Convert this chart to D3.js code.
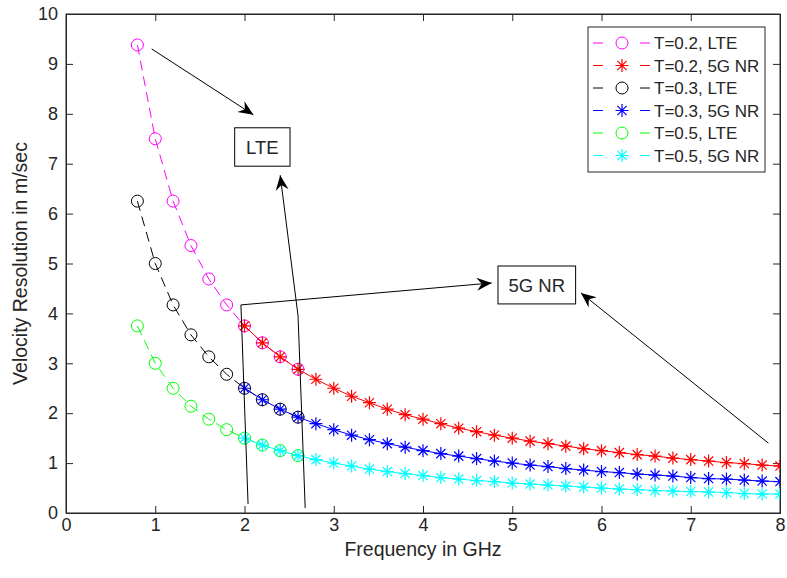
<!DOCTYPE html>
<html>
<head>
<meta charset="utf-8">
<script src="https://cdn.jsdelivr.net/npm/d3@7"></script>
<style>
  body { margin: 0; background: #fff; }
  text { font-family: "Liberation Sans", Arial, Helvetica, sans-serif; fill: #262626; }
</style>
</head>
<body>
<div id="chart"></div>
<script>
// frequencies (GHz)
const lteFreq = [0.8, 1.0, 1.2, 1.4, 1.6, 1.8, 2.0, 2.2, 2.4, 2.6];
const nrFreq = [2.0, 2.2, 2.4, 2.6, 2.8, 3.0, 3.2, 3.4, 3.6, 3.8, 4.0, 4.2, 4.4, 4.6, 4.8, 5.0,
  5.2, 5.4, 5.6, 5.8, 6.0, 6.2, 6.4, 6.6, 6.8, 7.0, 7.2, 7.4, 7.6, 7.8, 8.0];

// velocity resolution (m/sec)
const lteT02 = [9.38, 7.5, 6.25, 5.36, 4.69, 4.17, 3.75, 3.41, 3.13, 2.88];
const nrT02 = [3.75, 3.41, 3.13, 2.88, 2.68, 2.5, 2.34, 2.21, 2.08, 1.97, 1.88, 1.79, 1.70, 1.63, 1.56, 1.5,
  1.44, 1.39, 1.34, 1.29, 1.25, 1.21, 1.17, 1.14, 1.10, 1.07, 1.04, 1.01, 0.99, 0.96, 0.94];
const lteT03 = [6.25, 5.0, 4.17, 3.57, 3.13, 2.78, 2.5, 2.27, 2.08, 1.92];
const nrT03 = [2.5, 2.27, 2.08, 1.92, 1.79, 1.67, 1.56, 1.47, 1.39, 1.32, 1.25, 1.19, 1.14, 1.09, 1.04, 1.0,
  0.96, 0.93, 0.89, 0.86, 0.83, 0.81, 0.78, 0.76, 0.74, 0.71, 0.69, 0.68, 0.66, 0.64, 0.63];
const lteT05 = [3.75, 3.0, 2.5, 2.14, 1.88, 1.67, 1.5, 1.36, 1.25, 1.15];
const nrT05 = [1.5, 1.36, 1.25, 1.15, 1.07, 1.0, 0.94, 0.88, 0.83, 0.79, 0.75, 0.71, 0.68, 0.65, 0.63, 0.6,
  0.58, 0.56, 0.54, 0.52, 0.5, 0.48, 0.47, 0.45, 0.44, 0.43, 0.42, 0.41, 0.39, 0.38, 0.38];

const seriesNames = ["T=0.2, LTE", "T=0.2, 5G NR", "T=0.3, LTE", "T=0.3, 5G NR", "T=0.5, LTE", "T=0.5, 5G NR"];
const xTicks = [0, 1, 2, 3, 4, 5, 6, 7, 8];
const yTicks = [0, 1, 2, 3, 4, 5, 6, 7, 8, 9, 10];

const series = [
  { name: seriesNames[0], freq: lteFreq, values: lteT02, color: "#ff00ff", dash: "10,6", marker: "o" },
  { name: seriesNames[1], freq: nrFreq, values: nrT02, color: "#ff0000", dash: null, marker: "*" },
  { name: seriesNames[2], freq: lteFreq, values: lteT03, color: "#000000", dash: "10,6", marker: "o" },
  { name: seriesNames[3], freq: nrFreq, values: nrT03, color: "#0000ff", dash: null, marker: "*" },
  { name: seriesNames[4], freq: lteFreq, values: lteT05, color: "#00ff00", dash: "10,6", marker: "o" },
  { name: seriesNames[5], freq: nrFreq, values: nrT05, color: "#00ffff", dash: null, marker: "*" }
];

// text boxes and arrows, in data units
const textBoxes = [
  { label: "LTE", x0: 1.89, x1: 2.51, y0: 6.95, y1: 7.72 },
  { label: "5G NR", x0: 4.84, x1: 5.71, y0: 4.19, y1: 4.95 }
];
const arrows = [
  [[0.96, 9.30], [2.10, 7.98]],
  [[2.68, 0.10], [2.60, 3.95], [2.40, 6.77]],
  [[2.04, 0.18], [1.96, 4.17], [4.77, 4.61]],
  [[7.87, 1.40], [5.77, 4.41]]
];

const W = 787, H = 578;
const margin = { top: 14, right: 7, bottom: 65, left: 66 };
const width = W - margin.left - margin.right;
const height = H - margin.top - margin.bottom;
const axisColor = "#262626";

const svg = d3.select("#chart").append("svg")
  .attr("width", W)
  .attr("height", H);

const g = svg.append("g")
  .attr("transform", "translate(" + margin.left + "," + margin.top + ")");

const x = d3.scaleLinear().domain([0, 8]).range([0, width]);
const y = d3.scaleLinear().domain([0, 10]).range([height, 0]);

g.append("clipPath").attr("id", "plotclip")
  .append("rect").attr("width", width).attr("height", height);

// axes (ticks pointing inward, box on)
function styleAxis(sel) {
  sel.selectAll("path, line").attr("stroke", axisColor);
  sel.selectAll("text").style("font-size", "18px").attr("fill", axisColor);
}
g.append("g")
  .attr("transform", "translate(0," + height + ")")
  .call(d3.axisBottom(x).tickValues(xTicks).tickSizeInner(-7).tickSizeOuter(0).tickPadding(5).tickFormat(d3.format("d")))
  .call(styleAxis);
g.append("g")
  .call(d3.axisTop(x).tickValues(xTicks).tickSizeInner(-7).tickSizeOuter(0).tickFormat(""))
  .call(styleAxis);
g.append("g")
  .call(d3.axisLeft(y).tickValues(yTicks).tickSizeInner(-7).tickSizeOuter(0).tickPadding(8).tickFormat(d3.format("d")))
  .call(styleAxis);
g.append("g")
  .attr("transform", "translate(" + width + ",0)")
  .call(d3.axisRight(y).tickValues(yTicks).tickSizeInner(-7).tickSizeOuter(0).tickFormat(""))
  .call(styleAxis);

g.append("rect")
  .attr("width", width).attr("height", height)
  .attr("fill", "none").attr("stroke", axisColor).attr("stroke-width", 1);

// axis labels
svg.append("text")
  .attr("x", margin.left + width / 2)
  .attr("y", 556)
  .attr("text-anchor", "middle")
  .style("font-size", "19.5px")
  .text("Frequency in GHz");
svg.append("text")
  .attr("transform", "translate(27," + (margin.top + height / 2) + ") rotate(-90)")
  .attr("text-anchor", "middle")
  .style("font-size", "19.5px")
  .text("Velocity Resolution in m/sec");

// markers
function starPath(cx, cy, r) {
  const d = r * 0.7071;
  return "M" + (cx - r) + "," + cy + "L" + (cx + r) + "," + cy +
    "M" + cx + "," + (cy - r) + "L" + cx + "," + (cy + r) +
    "M" + (cx - d) + "," + (cy - d) + "L" + (cx + d) + "," + (cy + d) +
    "M" + (cx - d) + "," + (cy + d) + "L" + (cx + d) + "," + (cy - d);
}
function drawMarker(sel, type, cx, cy, color) {
  if (type === "o") {
    sel.append("circle").attr("cx", cx).attr("cy", cy).attr("r", 6)
      .attr("fill", "none").attr("stroke", color).attr("stroke-width", 1);
  } else {
    sel.append("path").attr("d", starPath(cx, cy, 6.5))
      .attr("fill", "none").attr("stroke", color).attr("stroke-width", 1.2);
  }
}

const plot = g.append("g").attr("clip-path", "url(#plotclip)");
const line = d3.line().x(d => x(d[0])).y(d => y(d[1]));

series.forEach(s => {
  const pts = s.freq.map((f, i) => [f, s.values[i]]);
  const sg = plot.append("g");
  sg.append("path")
    .attr("d", line(pts))
    .attr("fill", "none")
    .attr("stroke", s.color)
    .attr("stroke-width", 1)
    .attr("stroke-dasharray", s.dash);
  pts.forEach(p => drawMarker(sg, s.marker, x(p[0]), y(p[1]), s.color));
});

// annotations
function arrowHead(x1, y1, x2, y2) {
  const a = Math.atan2(y2 - y1, x2 - x1);
  const L = 15, w = 6.5, notch = 10;
  const bx = x2 - L * Math.cos(a), by = y2 - L * Math.sin(a);
  const nx = x2 - notch * Math.cos(a), ny = y2 - notch * Math.sin(a);
  const px = -Math.sin(a), py = Math.cos(a);
  return "M" + x2 + "," + y2 +
    "L" + (bx + w * px) + "," + (by + w * py) +
    "L" + nx + "," + ny +
    "L" + (bx - w * px) + "," + (by - w * py) + "Z";
}
const ann = g.append("g");
arrows.forEach(a => {
  const pts = a.map(p => [x(p[0]), y(p[1])]);
  ann.append("path")
    .attr("d", d3.line()(pts))
    .attr("fill", "none").attr("stroke", "#000").attr("stroke-width", 1);
  const p1 = pts[pts.length - 2], p2 = pts[pts.length - 1];
  ann.append("path")
    .attr("d", arrowHead(p1[0], p1[1], p2[0], p2[1]))
    .attr("fill", "#000");
});
textBoxes.forEach(b => {
  ann.append("rect")
    .attr("x", x(b.x0)).attr("y", y(b.y1))
    .attr("width", x(b.x1) - x(b.x0)).attr("height", y(b.y0) - y(b.y1))
    .attr("fill", "#fff").attr("stroke", "#000").attr("stroke-width", 1);
  ann.append("text")
    .attr("x", (x(b.x0) + x(b.x1)) / 2)
    .attr("y", (y(b.y0) + y(b.y1)) / 2)
    .attr("dy", "0.36em")
    .attr("text-anchor", "middle")
    .style("font-size", "18.5px")
    .attr("fill", "#000")
    .text(b.label);
});

// legend
const legend = svg.append("g").attr("transform", "translate(588,27)");
legend.append("rect")
  .attr("width", 177).attr("height", 145)
  .attr("fill", "#fff").attr("stroke", axisColor).attr("stroke-width", 1);
series.forEach((s, i) => {
  const ly = 16 + i * 22.5;
  const row = legend.append("g");
  row.append("line").attr("x1", 5).attr("x2", 15).attr("y1", ly).attr("y2", ly)
    .attr("stroke", s.color).attr("stroke-width", 1);
  row.append("line").attr("x1", 52).attr("x2", 62).attr("y1", ly).attr("y2", ly)
    .attr("stroke", s.color).attr("stroke-width", 1);
  drawMarker(row, s.marker, 34, ly, s.color);
  row.append("text")
    .attr("x", 66).attr("y", ly).attr("dy", "0.36em")
    .style("font-size", "17px")
    .attr("fill", "#000")
    .text(s.name);
});
</script>
</body>
</html>
